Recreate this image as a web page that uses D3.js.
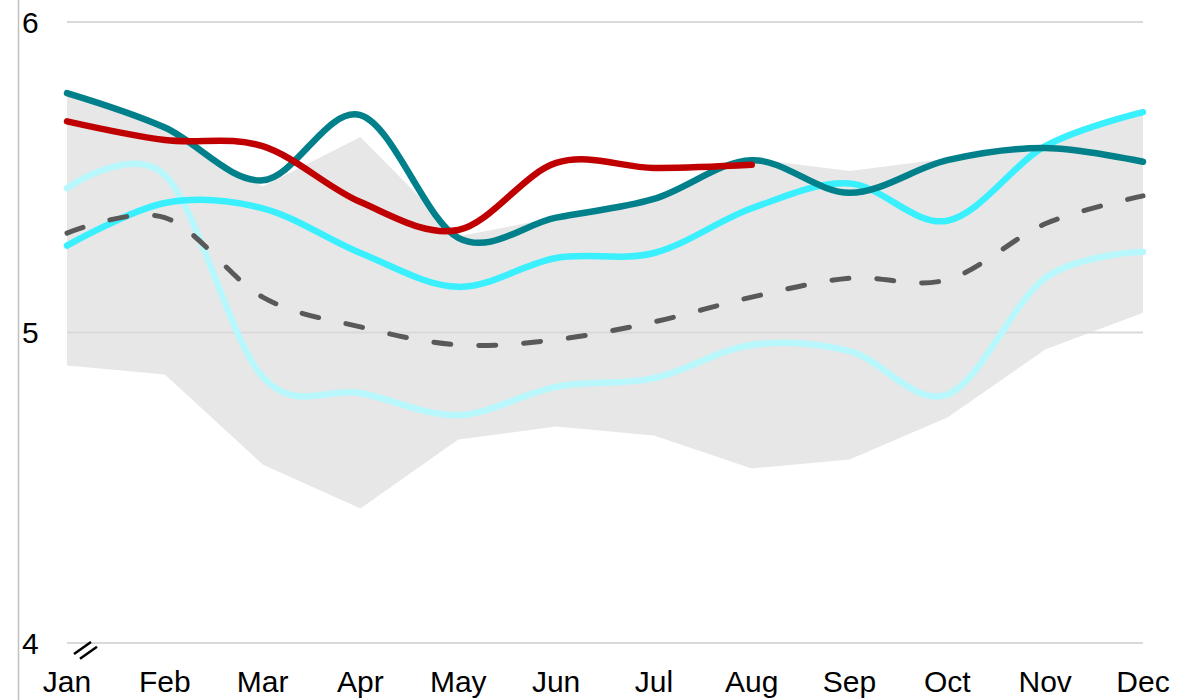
<!DOCTYPE html>
<html>
<head>
<meta charset="utf-8">
<script src="https://cdn.jsdelivr.net/npm/d3@7"></script>
<style>
  body { margin: 0; background: #fff; }
  text { font-family: "Liberation Sans", Arial, sans-serif; fill: #000; }
</style>
</head>
<body>
<svg id="chart" width="1196" height="700"></svg>
<script>
// month labels and y ticks
var months = ["Jan", "Feb", "Mar", "Apr", "May", "Jun", "Jul", "Aug", "Sep", "Oct", "Nov", "Dec"];
var yTicks = [4, 5, 6];

// grey band: min / max of past years
var rangeMin = [4.894, 4.865, 4.575, 4.433, 4.655, 4.697, 4.668, 4.562, 4.591, 4.726, 4.945, 5.064];
var rangeMax = [5.775, 5.66, 5.47, 5.63, 5.31, 5.37, 5.43, 5.56, 5.52, 5.56, 5.60, 5.71];

// lines
var average    = [5.32, 5.37, 5.114, 5.018, 4.96, 4.977, 5.034, 5.114, 5.175, 5.17, 5.35, 5.44];
var lightCyan  = [5.465, 5.507, 4.857, 4.805, 4.734, 4.825, 4.853, 4.96, 4.94, 4.80, 5.175, 5.26];
var brightCyan = [5.28, 5.417, 5.40, 5.256, 5.147, 5.24, 5.256, 5.40, 5.48, 5.36, 5.60, 5.71];
var teal       = [5.771, 5.66, 5.49, 5.70, 5.305, 5.37, 5.43, 5.555, 5.45, 5.555, 5.594, 5.55];
var current    = [5.68, 5.62, 5.60, 5.42, 5.33, 5.546, 5.53, 5.54];

var svg = d3.select("#chart");

var xScale = d3.scalePoint()
    .domain(months)
    .range([67, 1143]);
var yScale = d3.scaleLinear()
    .domain([4, 6])
    .range([643, 22]);

// left axis line
svg.append("line")
    .attr("x1", 18.5).attr("x2", 18.5)
    .attr("y1", 0).attr("y2", 700)
    .attr("stroke", "#c0c0c0")
    .attr("stroke-width", 1.5);

// band
var band = months.map(function (m, i) {
    return {m: m, lo: rangeMin[i], hi: rangeMax[i]};
});
var areaGen = d3.area()
    .x(function (d) { return xScale(d.m); })
    .y0(function (d) { return yScale(d.lo); })
    .y1(function (d) { return yScale(d.hi); });
svg.append("path")
    .datum(band)
    .attr("d", areaGen)
    .attr("fill", "#e7e7e7");

// gridlines
svg.selectAll(".grid")
    .data(yTicks)
    .enter().append("line")
    .attr("class", "grid")
    .attr("x1", 67).attr("x2", 1143)
    .attr("y1", function (d) { return yScale(d); })
    .attr("y2", function (d) { return yScale(d); })
    .attr("stroke", "#d9d9d9")
    .attr("stroke-width", 2);

// y labels
svg.selectAll(".ylab")
    .data(yTicks)
    .enter().append("text")
    .attr("class", "ylab")
    .attr("x", 22)
    .attr("y", function (d) { return yScale(d); })
    .attr("dy", "0.35em")
    .style("font-size", "30px")
    .text(function (d) { return d; });

// x labels
svg.selectAll(".xlab")
    .data(months)
    .enter().append("text")
    .attr("class", "xlab")
    .attr("x", function (d) { return xScale(d); })
    .attr("y", 692)
    .attr("text-anchor", "middle")
    .style("font-size", "30px")
    .text(function (d) { return d; });

// axis break mark
svg.selectAll(".brk")
    .data([0, 6])
    .enter().append("line")
    .attr("class", "brk")
    .attr("x1", function (d) { return 74 + d; })
    .attr("y1", function (d) { return 654 + d * 0.8; })
    .attr("x2", function (d) { return 91 + d; })
    .attr("y2", function (d) { return 642 + d * 0.8; })
    .attr("stroke", "#000")
    .attr("stroke-width", 2.5);

var lineGen = d3.line()
    .x(function (d, i) { return xScale(months[i]); })
    .y(function (d) { return yScale(d); })
    .curve(d3.curveCardinal.tension(0));

function drawLine(values, color, dash) {
    var p = svg.append("path")
        .datum(values)
        .attr("d", lineGen)
        .attr("fill", "none")
        .attr("stroke", color)
        .attr("stroke-width", 6.5)
        .attr("stroke-linecap", "round")
        .attr("stroke-linejoin", "round");
    if (dash) {
        p.attr("stroke-dasharray", dash).attr("stroke-width", 5);
    }
}

drawLine(lightCyan, "#b8f8fc");
drawLine(brightCyan, "#3af0ff");
drawLine(average, "#595959", "17,28");
drawLine(teal, "#00808a");
drawLine(current, "#c00000");
</script>
</body>
</html>
